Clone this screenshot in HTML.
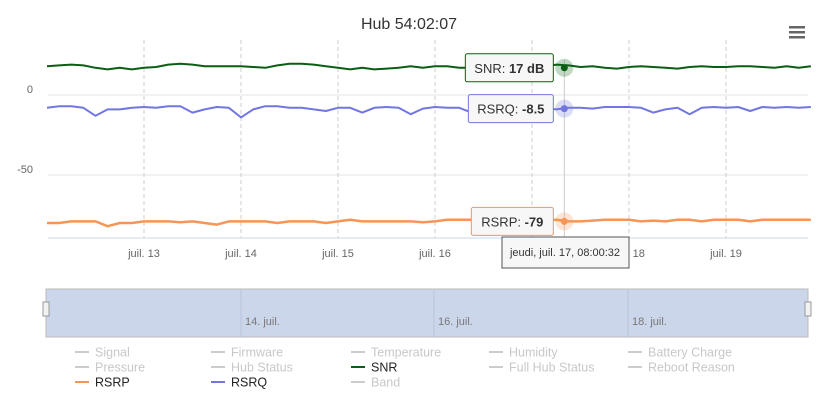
<!DOCTYPE html>
<html><head><meta charset="utf-8"><style>
body{margin:0;background:#fff;font-family:"Liberation Sans",sans-serif}
svg{display:block}
</style></head><body>
<svg id="c" width="818" height="405">
<rect x="0" y="0" width="818" height="405" fill="#fff"/>
<text x="409" y="29" text-anchor="middle" font-size="16" fill="#333">Hub 54:02:07</text>
<g><rect x="789" y="26" width="16" height="2.5" fill="#666"/><rect x="789" y="31" width="16" height="2.5" fill="#666"/><rect x="789" y="36" width="16" height="2.5" fill="#666"/></g>
<g id="grid"></g><g id="series"></g><g id="tips"></g>
<g>
<rect x="46" y="289" width="762" height="48" fill="#ccd6eb" stroke="#bbb"/>
<line x1="241" y1="289" x2="241" y2="337" stroke="#b8c2d8"/><line x1="434" y1="289" x2="434" y2="337" stroke="#b8c2d8"/><line x1="628" y1="289" x2="628" y2="337" stroke="#b8c2d8"/>
<text x="245" y="325" font-size="11" fill="#777">14. juil.</text><text x="438" y="325" font-size="11" fill="#777">16. juil.</text><text x="632" y="325" font-size="11" fill="#777">18. juil.</text>
<rect x="43" y="302" width="6" height="14" fill="#f2f2f2" stroke="#999"/>
<rect x="805" y="302" width="6" height="14" fill="#f2f2f2" stroke="#999"/>
</g>
<g id="legend"></g>
</svg>
<script>
const times=[0,3,6,9,12,15,18,21,24,27,30,33,36,39,42,45,48,51,54,57,60,63,66,69,72,75,78,81,84,87,90,93,96,99,102,105,108,111,114,117,120,123,126,129,132,135,138,141,144,147,150,153,156,159,162,165,168,171,174,177,180,183,186,189];
const snr=[18,18.5,19,18.5,17,16,17,16,17,17.5,19,19.5,19,18,18,18,18,17.5,17,18.5,19.5,19.5,19,18,17,16,17,16,16.5,17,18,17,18,18,17,17,17.5,18,18,18.5,18,17.5,19,18.5,17.5,18,17,16.5,17.5,18,17.5,17,16.5,17.5,18,17.5,17.5,18,18,17.5,17,18,17,18];
const rsrq=[-8,-7,-7,-8,-13,-9,-9,-8,-7.5,-8,-7,-7,-11,-9,-7.5,-8,-14,-9,-7,-7,-8,-8,-9,-10,-8,-8,-11,-8,-7.5,-8,-12,-8.5,-7.5,-8,-8,-11,-8,-7.5,-8,-9,-8,-8,-9,-8,-8,-8.5,-7.5,-7.5,-7.5,-8,-11,-9,-8,-12,-8,-7.5,-8,-7.5,-10,-7.5,-8,-7.5,-8,-7.5];
const rsrp=[-80,-80,-79,-79,-79,-82,-80,-80,-79,-79,-79,-79.5,-79,-80,-81,-79,-79,-79,-79,-80,-79,-79,-79,-80,-79,-78,-79,-79,-79,-79,-79,-79.5,-79,-78,-78,-78,-78,-78,-78,-78,-78,-78,-78,-79,-79,-78.5,-78,-78,-78,-79,-78.5,-79,-78,-78,-79,-78,-78,-78,-79,-78,-78,-78,-78,-78];
const yTicks=[0,-50];
const xTickLabels=["juil. 13","juil. 14","juil. 15","juil. 16","juil. 17","juil. 18","juil. 19"];
const xTickHours=[24,48,72,96,120,144,168];
const legendNames=["Signal","Firmware","Temperature","Humidity","Battery Charge","Pressure","Hub Status","SNR","Full Hub Status","Reboot Reason","RSRP","RSRQ","Band"];
const legendColors=["#ccc","#ccc","#ccc","#ccc","#ccc","#ccc","#ccc","#0b5e14","#ccc","#ccc","#f79556","#7176e0","#ccc"];
const NS="http://www.w3.org/2000/svg";
const X=h=>48+h*(97/24)-1;
const Y=v=>95-v*1.6;
function el(p,t,a){const e=document.createElementNS(NS,t);for(const k in a)e.setAttribute(k,a[k]);p.appendChild(e);return e;}
const grid=document.getElementById('grid');
yTicks.forEach(v=>{
 const l=el(grid,'line',{x1:48,x2:808,y1:Y(v),y2:Y(v),stroke:'#e6e6e6'});
 
 
 const t=el(grid,'text',{x:33,y:Y(v)-2,'text-anchor':'end','font-size':11,fill:'#666'});t.textContent=v;
 
 
});
xTickHours.forEach((h,i)=>{
 const l=el(grid,'line',{x1:X(h),x2:X(h),y1:40,y2:238,stroke:'#ccc','stroke-dasharray':'4,3'});
 
 
 const t=el(grid,'text',{x:X(h),y:257,'text-anchor':'middle','font-size':11,fill:'#666'});t.textContent=xTickLabels[i];
 
 
});
const ax=el(grid,'line',{x1:48,x2:808,y1:238,y2:238,stroke:'#ccd6eb'});


const ser=document.getElementById('series');
[[snr,'#0b5e14','snr-line'],[rsrq,'#7176e0','rsrq-line'],[rsrp,'#f79556','rsrp-line']].forEach(([d,c,n])=>{
 const p=el(ser,'polyline',{points:d.map((v,i)=>X(times[i])+','+Y(v)).join(' '),fill:'none',stroke:c,'stroke-width':n=='rsrp-line'?2.5:2,'stroke-linejoin':'round'});
 
 
});
const tips=document.getElementById('tips');
const hx=X(128);
const cl=el(tips,'line',{x1:hx,x2:hx,y1:60,y2:238,stroke:'#ccc'});


function tip(v,col,label,val,w,name){
 const y=Y(v);
 el(tips,'circle',{cx:hx,cy:y,r:9,fill:col,opacity:0.25});
 el(tips,'circle',{cx:hx,cy:y,r:3.5,fill:col});
 const g=el(tips,'g',{});
 
 
 el(g,'rect',{x:hx-w-11,y:y-14,width:w,height:28,fill:'#f7f7f7',stroke:col,rx:2});
 const t=el(g,'text',{x:hx-w-11+(w/2),y:y+5,'text-anchor':'middle','font-size':13,fill:'#333'});
 t.innerHTML=label+' <tspan font-weight="bold">'+val+'</tspan>';
}
tip(17,'#0b5e14','SNR:','17 dB',88,'snr-tooltip');
tip(-8.5,'#7176e0','RSRQ:','-8.5',85,'rsrq-tooltip');
tip(-79,'#f79556','RSRP:','-79',82,'rsrp-tooltip');
const dt=el(tips,'g',{});


el(dt,'rect',{x:502,y:237,width:127,height:31,fill:'#f7f7f7',stroke:'#555'});
const dtt=el(dt,'text',{x:565,y:256,'text-anchor':'middle','font-size':11,fill:'#333'});dtt.textContent='jeudi, juil. 17, 08:00:32';
const lg=document.getElementById('legend');
const cols=[75,211,351,489,628];
legendNames.forEach((n,i)=>{
 const cx=cols[i%5],cy=352+Math.floor(i/5)*15;
 const g=el(lg,'g',{});
 
 
 el(g,'line',{x1:cx,x2:cx+14,y1:cy,y2:cy,stroke:legendColors[i],'stroke-width':2});
 const active=legendColors[i]!='#ccc';
 const t=el(g,'text',{x:cx+20,y:cy+4.5,'font-size':12.5,fill:active?'#222':'#c8c8c8'});t.textContent=n;
});
</script>
</body></html>
